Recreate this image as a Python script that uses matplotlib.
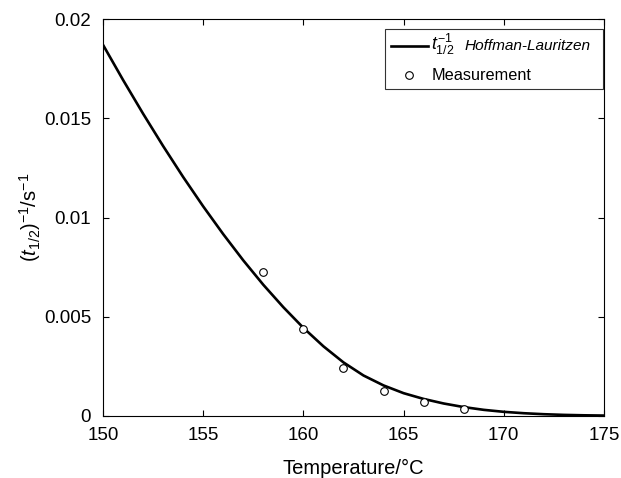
import matplotlib
matplotlib.use("Agg")
import matplotlib.pyplot as plt
from matplotlib.ticker import FixedLocator, FixedFormatter

plt.rcParams['font.family'] = ['Liberation Sans', 'DejaVu Sans']
plt.rcParams['mathtext.fontset'] = 'custom'
plt.rcParams['mathtext.rm'] = 'Liberation Sans'
plt.rcParams['mathtext.it'] = 'Liberation Sans:italic'
plt.rcParams['mathtext.bf'] = 'Liberation Sans:bold'

# Hoffman-Lauritzen curve, values in 1/s
curve_T = [150, 151, 152, 153, 154, 155, 156, 157, 158, 159, 160, 161, 162,
           163, 164, 165, 166, 167, 168, 169, 170, 171, 172, 173, 174, 175]
curve_v = [0.01870, 0.01693, 0.01523, 0.01360, 0.01204, 0.01056, 0.00916,
           0.00784, 0.00661, 0.00548, 0.00444, 0.00351, 0.00270, 0.00204,
           0.00154, 0.00115, 0.00086, 0.00063, 0.00045, 0.00031, 0.00021,
           0.00014, 0.00009, 0.000056, 0.000035, 0.000022]

# Measurements
meas_T = [158, 160, 162, 164, 166, 168]
meas_v = [0.00727, 0.00436, 0.00241, 0.00128, 0.00071, 0.00034]

xticks = [150, 155, 160, 165, 170, 175]
xticklabels = ['150', '155', '160', '165', '170', '175']
yticks = [0, 0.005, 0.01, 0.015, 0.02]
yticklabels = ['0', '0.005', '0.01', '0.015', '0.02']

curve_sym = r'$t^{-1}_{\mathit{1/2}}$'
curve_name = 'Hoffman-Lauritzen'

fig = plt.figure(figsize=(6.21, 4.78), dpi=100)
ax = fig.add_axes([103/621, 1-416/478, 501/621, 397/478])

ax.plot(curve_T, curve_v, color='black', lw=1.9, solid_joinstyle='round',
        label=curve_sym + '  ' + curve_name)
ax.plot(meas_T, meas_v, linestyle='none', marker='o', mfc='white',
        mec='black', mew=0.8, ms=5.5, label='Measurement')

ax.set_xlim(150, 175)
ax.set_ylim(0, 0.02)
ax.xaxis.set_major_locator(FixedLocator(xticks))
ax.xaxis.set_major_formatter(FixedFormatter(xticklabels))
ax.yaxis.set_major_locator(FixedLocator(yticks))
ax.yaxis.set_major_formatter(FixedFormatter(yticklabels))
ax.tick_params(direction='in', top=True, right=True, length=4.5, width=0.8,
               labelsize=13.5, colors='black')
ax.tick_params(axis='x', pad=8)
ax.tick_params(axis='y', pad=8.5)
for s in ax.spines.values():
    s.set_linewidth(0.8)

ax.set_xlabel('Temperature/°C', fontsize=14.5, labelpad=11)
ax.set_ylabel(r'$(t_{\mathit{1/2}})^{-1}$/s$^{-1}$', fontsize=14.5, labelpad=0.5)

leg = ax.legend(loc='upper right', bbox_to_anchor=(0.998, 0.975),
                borderaxespad=0, fontsize=11.7, frameon=True, fancybox=False,
                edgecolor='black', handlelength=2.3, handletextpad=0.2,
                borderpad=0.35, labelspacing=0.65)
leg.get_frame().set_linewidth(0.8)
# first label: keep its room in the legend, draw its two parts at their own sizes
t0 = leg.get_texts()[0]
t0.set_fontsize(11.8)
t0.set_fontstyle('italic')
t0.set_visible(False)
h0 = leg.get_lines()[0]
ax.annotate(curve_sym, xy=(0.5, 0.5), xycoords=h0,
            xytext=(15.5, 1), textcoords='offset points', va='center',
            ha='left', fontsize=12.8, zorder=10)
ax.annotate(curve_name, xy=(0.5, 0.5), xycoords=h0,
            xytext=(39.5, 0), textcoords='offset points', va='center',
            ha='left', fontsize=11.1, fontstyle='italic', zorder=10)

fig.savefig('out.png', dpi=100)
